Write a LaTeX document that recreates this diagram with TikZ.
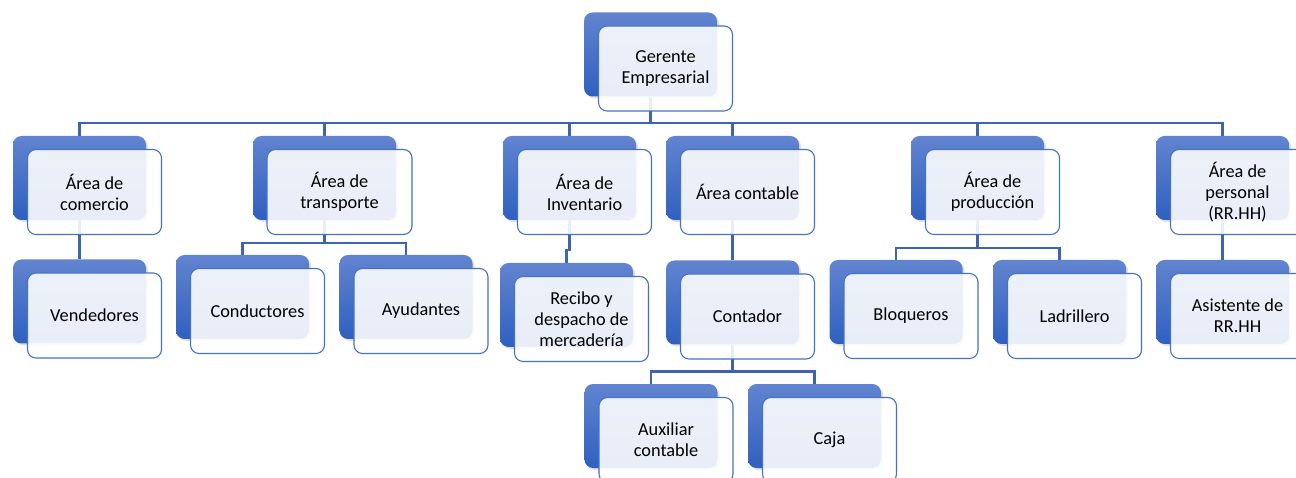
\documentclass[tikz,border=0pt]{standalone}
\usepackage{fontspec}
\setmainfont{Carlito}
\definecolor{main}{RGB}{68,114,196}
\definecolor{second}{RGB}{62,100,176}
\definecolor{fourth}{RGB}{98,132,208}
\definecolor{fifth}{RGB}{47,96,192}
\usepackage{tikz}
\usetikzlibrary{
	positioning,
	calc,
	shadows,
	backgrounds % 连线放在背景层
}
\tikzset{
  % box
	cstback/.style  ={top color=fourth,bottom color=fifth,draw=none,rounded corners=0.3cm,
	                  minimum width=133pt,minimum height=84pt,inner sep=0pt,
	                  drop shadow={opacity=.25,shadow xshift=2pt,shadow yshift=-2pt}}, %后面的蓝框
	cstfront/.style ={fill=white,fill opacity=.89,text opacity=1,draw=main,line width=1.1pt,
	                  rounded corners=0.3cm,minimum width=134pt,minimum height=85pt,inner sep=0pt,
	                  align=center,text=black,font=\fontsize{18.3}{21}\selectfont}, %前面的白框
  % line
	cstline/.style  ={second,line width=2.6pt}
}
\begin{document}
\begin{tikzpicture}[x=1pt,y=-1pt]
	\useasboundingbox (0,0) rectangle (1296,478);
	% back boxes
	\node[cstback] (gerB) at (650.5,54.5) {};
	\node[cstback] (comB) at (79.5,178) {};
	\node[cstback,minimum width=143pt] (traB) at (324.5,178) {};
	\node[cstback] (invB) at (569.5,178) {};
	\node[cstback] (cntB) at (732.5,178) {};
	\node[cstback] (proB) at (977.5,178) {};
	\node[cstback] (perB) at (1222.5,178) {};
	\node[cstback] (venB) at (79.5,301.5) {};
	\node[cstback] (conB) at (242.5,297) {};
	\node[cstback] (ayuB) at (406,297) {};
	\node[cstback] (recB) at (566.5,305) {};
	\node[cstback] (ctdB) at (732.5,302.5) {};
	\node[cstback] (bloB) at (896,302) {};
	\node[cstback] (ladB) at (1059.5,302) {};
	\node[cstback] (asiB) at (1222.5,302) {};
	\node[cstback] (auxB) at (651,426) {};
	\node[cstback] (cajB) at (814.5,426) {};
	% front boxes
	\node[cstfront] (ger) at ($(gerB)+(15,14)$) {Gerente\\Empresarial};
	\node[cstfront] (com) at ($(comB)+(15,14)$) {Área de\\comercio};
	\node[cstfront,minimum width=145pt] (tra) at ($(traB)+(15,14)$) {Área de\\transporte};
	\node[cstfront] (inv) at ($(invB)+(15,14)$) {Área de\\Inventario};
	\node[cstfront] (cnt) at ($(cntB)+(15,14)$) {Área contable};
	\node[cstfront] (pro) at ($(proB)+(15,14)$) {Área de\\producción};
	\node[cstfront] (per) at ($(perB)+(15,14)$) {Área de\\personal\\(RR.HH)};
	\node[cstfront] (ven) at ($(venB)+(15,14)$) {Vendedores};
	\node[cstfront] (con) at ($(conB)+(15,14)$) {Conductores};
	\node[cstfront] (ayu) at ($(ayuB)+(15,14)$) {Ayudantes};
	\node[cstfront] (rec) at ($(recB)+(15,14)$) {Recibo y\\despacho de\\mercadería};
	\node[cstfront] (ctd) at ($(ctdB)+(15,14)$) {Contador};
	\node[cstfront] (blo) at ($(bloB)+(15,14)$) {Bloqueros};
	\node[cstfront] (lad) at ($(ladB)+(15,14)$) {Ladrillero};
	\node[cstfront] (asi) at ($(asiB)+(15,14)$) {Asistente de\\RR.HH};
	\node[cstfront] (aux) at ($(auxB)+(15,14)$) {Auxiliar\\contable};
	\node[cstfront] (caj) at ($(cajB)+(15,14)$) {Caja};
	% lines
	\begin{pgfonlayer}{background}
		\coordinate (busA) at ($(gerB.south)+(0,26.5)$);
		\draw[cstline] (gerB.south)--(busA);
		\draw[cstline] (busA) -| (comB.north);
		\draw[cstline] (busA) -| (traB.north);
		\draw[cstline] (busA) -| (invB.north);
		\draw[cstline] (busA) -| (cntB.north);
		\draw[cstline] (busA) -| (proB.north);
		\draw[cstline] (busA) -| (perB.north);
		\draw[cstline] (comB.south)--(venB.north);
		\draw[cstline] (traB.south)--++(0,23) coordinate (busB) -| (conB.north);
		\draw[cstline] (busB) -| (ayuB.north);
		\draw[cstline] (invB.south)--++(0,30) -| (recB.north);
		\draw[cstline] (cntB.south)--(ctdB.north);
		\draw[cstline] (proB.south)--++(0,28) coordinate (busC) -| (bloB.north);
		\draw[cstline] (busC) -| (ladB.north);
		\draw[cstline] (perB.south)--(asiB.north);
		\draw[cstline] (ctdB.south)--++(0,27) coordinate (busD) -| (auxB.north);
		\draw[cstline] (busD) -| (cajB.north);
	\end{pgfonlayer}
\end{tikzpicture}
\end{document}
